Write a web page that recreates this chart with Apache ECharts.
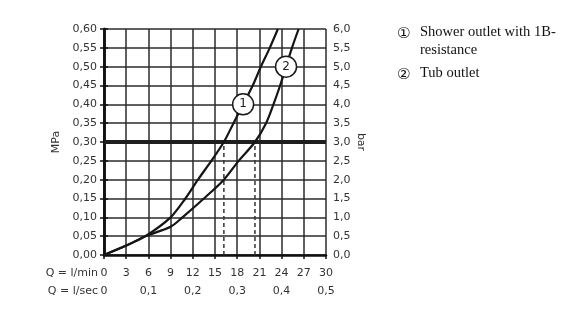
<!DOCTYPE html>
<html>
<head>
<meta charset="utf-8">
<script src="https://cdn.jsdelivr.net/npm/echarts@6/dist/echarts.min.js"></script>
<style>
  html, body { margin: 0; padding: 0; background: #fff; }
  #chart { width: 587px; height: 334px; }
</style>
</head>
<body>
<div id="chart"></div>
<script>
// Flow rate Q (l/min) vs. flow pressure (MPa / bar)
const showerOutlet = [
  [0, 0], [3, 0.025], [5.6, 0.05], [9, 0.10], [11, 0.15], [12.7, 0.20],
  [14.5, 0.25], [16.2, 0.30], [17.5, 0.35], [18.8, 0.40], [20.1, 0.45],
  [21.2, 0.50], [22.4, 0.55], [23.5, 0.60]
];
const tubOutlet = [
  [0, 0], [3, 0.025], [5.6, 0.05], [9, 0.075], [10.6, 0.10], [13.5, 0.15],
  [16.2, 0.20], [18.2, 0.25], [20.4, 0.30], [21.9, 0.35], [22.9, 0.40],
  [23.8, 0.45], [24.6, 0.50], [25.4, 0.55], [26.3, 0.60]
];
// curve markers (circled numbers)
const curveMarkers = [
  { value: [18.8, 0.40], label: '1' },
  { value: [24.6, 0.50], label: '2' }
];
// reference pressure and the flow rates where the curves reach it
const refPressure = 0.30;
const refFlows = [16.2, 20.4];
const legendNumbers = ['\u2460', '\u2461'];
const legendLines = ['Shower outlet with 1B-', 'resistance', 'Tub outlet'];

const comma = v => String(v).replace('.', ',');
const axisFont = { fontFamily: 'DejaVu Sans', fontSize: 11, color: '#333' };
const gridColor = '#2b2b2b';

const chart = echarts.init(document.getElementById('chart'), null, { renderer: 'canvas' });

chart.setOption({
  animation: false,
  backgroundColor: '#fff',
  grid: { left: 104, right: 261, top: 29, bottom: 79 },
  xAxis: [
    {
      type: 'value', min: 0, max: 30, interval: 3, position: 'bottom',
      axisLine: { lineStyle: { color: '#111', width: 2.5 } },
      axisTick: { show: true, length: 4, inside: false, lineStyle: { color: '#111', width: 1.5 } },
      axisLabel: Object.assign({ margin: 13 }, axisFont),
      splitLine: { show: true, lineStyle: { color: gridColor, width: 1.5 } }
    },
    {
      type: 'value', min: 0, max: 0.5, interval: 0.1, position: 'bottom', offset: 18,
      axisLine: { show: false }, axisTick: { show: false },
      axisLabel: Object.assign({ margin: 13, formatter: v => comma(+v.toFixed(1)) }, axisFont),
      splitLine: { show: false }
    }
  ],
  yAxis: [
    {
      type: 'value', min: 0, max: 0.6, interval: 0.05, position: 'left',
      name: 'MPa', nameLocation: 'middle', nameGap: 42, nameRotate: 90,
      nameTextStyle: { fontFamily: 'DejaVu Sans', fontSize: 11, color: '#333' },
      axisLine: { show: true, lineStyle: { color: '#111', width: 2.5 } },
      axisTick: { show: true, length: 4, lineStyle: { color: '#111', width: 1.5 } },
      axisLabel: Object.assign({ margin: 7, formatter: v => v.toFixed(2).replace('.', ',') }, axisFont),
      splitLine: { show: true, lineStyle: { color: gridColor, width: 1.5 } }
    },
    {
      type: 'value', min: 0, max: 6, interval: 0.5, position: 'right',
      name: 'bar', nameLocation: 'middle', nameGap: 29, nameRotate: -90,
      nameTextStyle: { fontFamily: 'DejaVu Sans', fontSize: 11, color: '#333' },
      axisLine: { show: true, lineStyle: { color: '#111', width: 2.5 } },
      axisTick: { show: true, length: 4, lineStyle: { color: '#111', width: 1.5 } },
      axisLabel: Object.assign({ margin: 7, formatter: v => v.toFixed(1).replace('.', ',') }, axisFont),
      splitLine: { show: false }
    }
  ],
  series: [
    {
      type: 'line', data: showerOutlet, smooth: 0.3, symbol: 'none',
      lineStyle: { color: '#151515', width: 2.2 }, z: 5,
      markLine: {
        silent: true, symbol: 'none', label: { show: false },
        lineStyle: { color: '#1e1e1e', width: 4, type: 'solid' },
        data: [{ yAxis: refPressure }]
      }
    },
    {
      type: 'line', data: tubOutlet, smooth: 0.3, symbol: 'none',
      lineStyle: { color: '#151515', width: 2.2 }, z: 5
    },
    ...refFlows.map(q => ({
      type: 'line', data: [[q, 0], [q, refPressure]], symbol: 'none',
      lineStyle: { color: '#333', width: 1.5, type: [4, 3] }, z: 4
    })),
    {
      type: 'scatter', data: curveMarkers.map(m => ({ value: m.value, name: m.label })),
      symbol: 'circle', symbolSize: 21, z: 10,
      itemStyle: { color: '#fff', opacity: 1, borderColor: '#1a1a1a', borderWidth: 1.5 },
      label: { show: true, position: 'inside', formatter: p => p.name,
               fontFamily: 'DejaVu Sans', fontSize: 12, color: '#222' }
    }
  ],
  graphic: [
    { type: 'text', x: 98, y: 268, style: { text: 'Q = l/min', align: 'right', fontFamily: 'DejaVu Sans', fontSize: 11, fill: '#333' } },
    { type: 'text', x: 98, y: 286, style: { text: 'Q = l/sec', align: 'right', fontFamily: 'DejaVu Sans', fontSize: 11, fill: '#333' } },
    ...legendNumbers.map((t, i) => ({
      type: 'text', x: 397, y: [27, 68][i],
      style: { text: t, fontFamily: 'DejaVu Sans', fontSize: 15, fill: '#111' }
    })),
    ...legendLines.map((t, i) => ({
      type: 'text', x: 420, y: [25, 43, 66][i],
      style: { text: t, fontFamily: 'Liberation Serif', fontSize: 14.5, fill: '#111' }
    }))
  ]
});
</script>
</body>
</html>
